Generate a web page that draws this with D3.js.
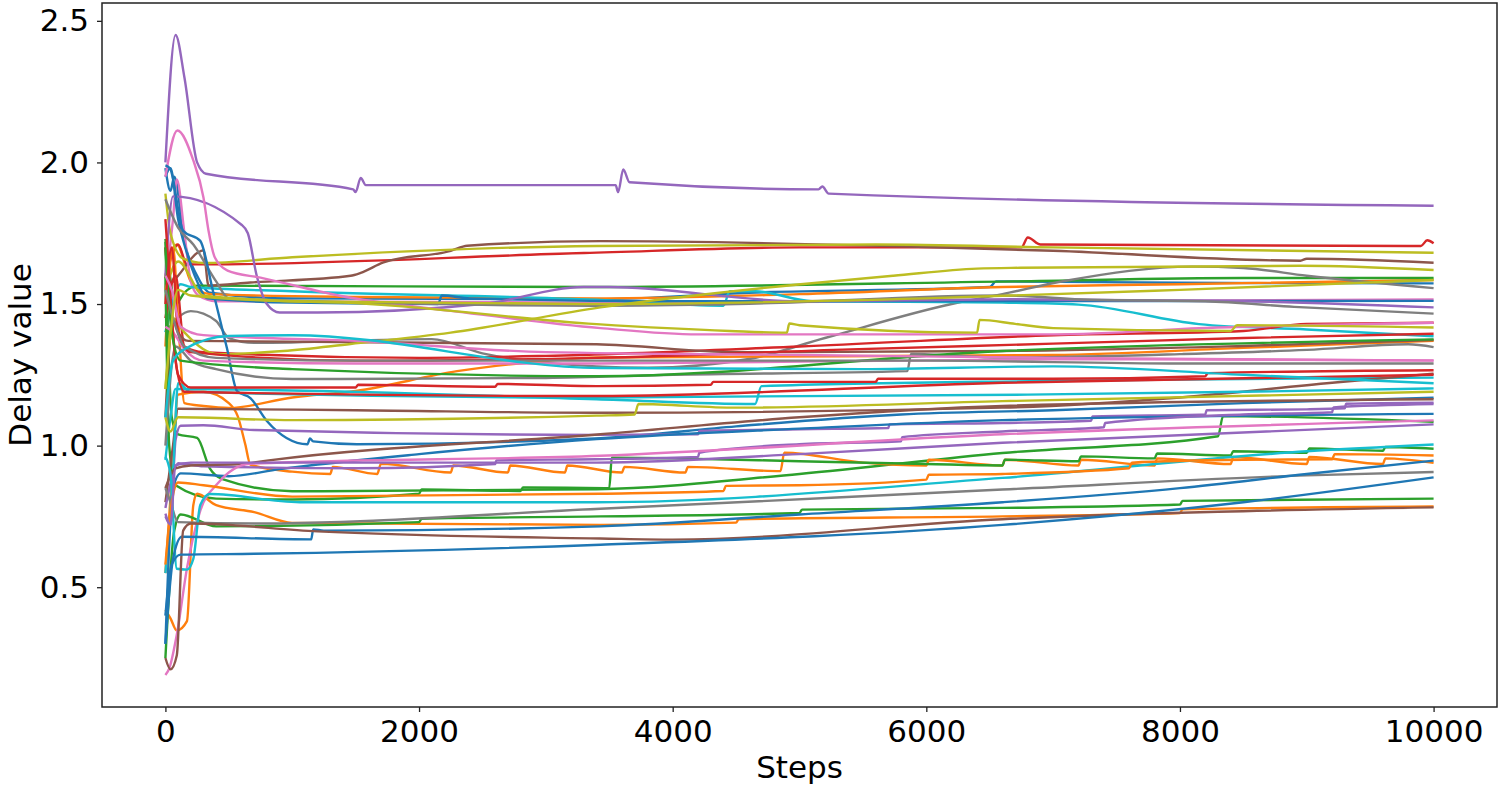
<!DOCTYPE html>
<html>
<head>
<meta charset="utf-8">
<script src="https://cdn.jsdelivr.net/npm/d3@7"></script>
<style>
  body { margin: 0; background: #fff; }
  text { font-family: "DejaVu Sans", sans-serif; fill: #000; }
</style>
</head>
<body>
<div id="chart"></div>
<script>
// step / delay value pairs, one array per curve
const blue1 = [[0,1.98],[40,1.90],[70,1.95],[150,1.72],[250,1.60],[350,1.54],[1000,1.52],[3400,1.517],[4600,1.54],[6500,1.56],[6550,1.58],[8000,1.575],[10000,1.573]];
const orange1 = [[0,1.60],[90,1.71],[200,1.58],[350,1.535],[1500,1.525],[3400,1.52],[5000,1.535],[6600,1.56],[8000,1.57],[10000,1.585]];
const green1 = [[0,1.73],[30,1.62],[80,1.50],[150,1.54],[250,1.565],[3400,1.56],[6700,1.58],[8500,1.592],[10000,1.592]];
const red1 = [[0,1.59],[100,1.71],[170,1.64],[300,1.64],[3300,1.68],[5000,1.70],[6750,1.70],[6800,1.735],[6900,1.71],[9900,1.705],[9950,1.725],[10000,1.715]];
const purple1 = [[0,2.0],[80,2.45],[150,2.3],[250,2.0],[320,1.96],[1480,1.905],[1500,1.895],[1540,1.945],[1580,1.92],[3550,1.92],[3570,1.895],[3610,1.975],[3660,1.93],[5150,1.905],[5180,1.915],[5230,1.89],[10000,1.847]];
const brown1 = [[0,1.55],[100,1.60],[250,1.68],[300,1.69],[340,1.565],[670,1.576],[1460,1.60],[1540,1.61],[1720,1.647],[2250,1.688],[2380,1.706],[3430,1.722],[5800,1.704],[7000,1.688],[8950,1.653],[9000,1.66],[10000,1.646]];
const pink1 = [[0,1.55],[60,1.80],[90,1.94],[150,1.75],[200,1.58],[260,1.53],[400,1.51],[3400,1.505],[10000,1.516]];
const gray1 = [[0,1.40],[200,1.475],[400,1.44],[500,1.38],[700,1.363],[2100,1.376],[2500,1.326],[3000,1.293],[3800,1.275],[4600,1.306],[5200,1.38],[6200,1.50],[6600,1.535],[7100,1.582],[8100,1.632],[8500,1.627],[9000,1.60],[10000,1.556]];
const olive1 = [[0,1.89],[40,1.75],[140,1.66],[300,1.645],[1000,1.665],[3400,1.705],[5600,1.71],[7000,1.70],[10000,1.681]];
const cyan1 = [[0,1.40],[40,1.48],[120,1.57],[200,1.56],[1000,1.545],[3400,1.515],[4400,1.494],[4450,1.545],[4650,1.545],[5100,1.51],[6600,1.505],[7200,1.498],[8150,1.429],[9000,1.41],[10000,1.386]];

const blue2 = [[0,1.95],[40,1.98],[100,1.80],[170,1.68],[250,1.58],[330,1.52],[1000,1.505],[2150,1.50],[2180,1.53],[2400,1.52],[4000,1.51],[10000,1.511]];
const orange2 = [[0,1.35],[60,1.70],[100,1.45],[150,1.15],[300,1.14],[500,1.133],[1000,1.17],[1500,1.193],[2300,1.263],[3000,1.299],[3400,1.311],[7000,1.32],[8500,1.345],[10000,1.37]];
const green2 = [[0,1.72],[50,1.10],[100,1.04],[250,1.027],[350,0.92],[450,0.882],[1000,0.839],[3400,0.846],[5000,0.90],[6600,0.974],[8300,1.033],[8340,1.104],[10000,1.084]];
const red2 = [[0,1.45],[80,1.60],[150,1.35],[300,1.33],[2000,1.31],[3000,1.317],[5000,1.35],[7000,1.39],[8500,1.405],[9000,1.43],[10000,1.434]];
const purple2 = [[0,1.60],[60,1.88],[600,1.78],[650,1.75],[720,1.60],[800,1.50],[900,1.47],[1200,1.47],[2500,1.50],[3300,1.56],[3500,1.56],[5000,1.51],[6700,1.517],[8500,1.51],[10000,1.488]];
const brown2 = [[0,1.10],[60,1.45],[100,1.40],[180,1.37],[3400,1.358],[4500,1.33],[6600,1.334],[8500,1.352],[10000,1.373]];
const pink2 = [[0,1.95],[94,2.113],[220,2.007],[300,1.876],[340,1.759],[390,1.664],[490,1.618],[750,1.593],[1460,1.522],[2250,1.476],[3430,1.415],[4200,1.393],[7000,1.393],[8300,1.417],[10000,1.434]];
const gray2 = [[0,1.87],[100,1.77],[220,1.71],[400,1.58],[500,1.52],[3400,1.494],[4500,1.50],[6600,1.53],[7300,1.515],[8200,1.51],[8900,1.49],[10000,1.466]];
const olive2 = [[0,1.20],[60,1.45],[150,1.40],[410,1.323],[930,1.334],[1460,1.359],[2250,1.399],[3430,1.488],[5010,1.57],[5740,1.60],[6400,1.625],[6740,1.628],[8950,1.635],[10000,1.62]];
const cyan2 = [[0,0.95],[40,1.10],[80,1.20],[3400,1.164],[4650,1.147],[4700,1.21],[6900,1.228],[8500,1.235],[10000,1.24]];

const blue3 = [[0,1.99],[37,1.978],[140,1.759],[275,1.723],[375,1.546],[485,1.345],[565,1.193],[670,1.168],[800,1.087],[1120,1.005],[1140,1.025],[1165,1.015],[1510,1.005],[3430,1.026],[4500,1.068],[5800,1.11],[7000,1.125],[8500,1.15],[10000,1.169]];
const orange3 = [[0,0.55],[60,0.95],[100,1.18],[300,1.19],[500,1.15],[570,1.104],[630,1.004],[670,0.933],[1000,0.908],[1300,0.90],[1320,0.925],[1670,0.90],[1700,0.936],[2250,0.905],[2270,0.93],[2700,0.905],[2720,0.93],[3150,0.905],[3170,0.93],[3600,0.905],[3620,0.925],[4100,0.905],[4120,0.925],[4850,0.91],[4880,0.975],[5500,0.94],[6000,0.93],[6020,0.95],[6600,0.93],[6620,0.95],[7200,0.93],[7220,0.95],[7800,0.93],[7820,0.955],[8400,0.935],[8420,0.96],[9000,0.935],[9020,0.96],[9600,0.935],[9620,0.955],[10000,0.939]];
const green3 = [[0,1.60],[30,1.0],[80,0.86],[400,0.813],[1000,0.81],[2000,0.83],[2020,0.845],[2800,0.84],[2820,0.852],[3500,0.85],[3520,0.957],[4000,0.955],[5000,0.945],[6000,0.935],[6600,0.93],[6620,0.95],[7200,0.945],[7220,0.962],[7800,0.955],[7820,0.972],[8400,0.965],[8420,0.98],[9000,0.975],[9020,0.99],[9600,0.982],[9620,0.995],[10000,0.989]];
const red3 = [[0,1.70],[40,1.50],[100,1.25],[200,1.205],[1500,1.205],[1520,1.215],[2600,1.208],[2620,1.218],[3400,1.21],[4300,1.215],[4320,1.225],[5600,1.225],[5620,1.236],[7000,1.236],[8200,1.245],[8220,1.256],[10000,1.266]];
const purple3 = [[0,0.75],[40,0.72],[80,1.02],[120,1.07],[300,1.072],[700,1.055],[3400,1.038],[4200,1.04],[4210,1.052],[5000,1.058],[5700,1.062],[5710,1.075],[6600,1.08],[7300,1.088],[7310,1.103],[8200,1.11],[8210,1.125],[9000,1.128],[9300,1.132],[9310,1.148],[10000,1.152]];
const brown3 = [[0,0.80],[60,1.00],[100,1.13],[1500,1.125],[3400,1.116],[6600,1.134],[8000,1.17],[9200,1.222],[10000,1.254]];
const pink3 = [[0,1.42],[60,1.40],[150,1.34],[300,1.30],[1500,1.29],[3400,1.29],[7000,1.305],[10000,1.301]];
const gray3 = [[0,1.0],[80,1.35],[200,1.30],[400,1.27],[1000,1.235],[3000,1.239],[4000,1.25],[5850,1.263],[5880,1.324],[6600,1.311],[8000,1.323],[9000,1.338],[9800,1.358],[10000,1.348]];
const olive3 = [[0,1.55],[100,1.65],[300,1.53],[1000,1.51],[1400,1.505],[3400,1.429],[4450,1.405],[4900,1.399],[4920,1.431],[5000,1.425],[6400,1.399],[6420,1.444],[6700,1.43],[7000,1.415],[8400,1.405],[8450,1.425],[10000,1.417]];
const cyan3 = [[0,0.55],[60,0.90],[100,1.22],[200,1.19],[3400,1.17],[6800,1.18],[8500,1.19],[10000,1.202]];

const blue4 = [[0,0.30],[60,0.85],[120,0.902],[500,0.892],[900,0.917],[2000,0.97],[3400,1.023],[5000,1.06],[6600,1.09],[10000,1.112]];
const orange4 = [[0,0.42],[40,0.39],[90,0.347],[170,0.38],[220,0.79],[250,0.83],[400,0.79],[700,0.765],[1000,0.727],[3430,0.72],[4500,0.728],[4520,0.74],[6600,0.75],[8000,0.762],[8020,0.775],[10000,0.785]];
const green4 = [[0,0.25],[70,0.70],[120,0.757],[400,0.715],[2000,0.73],[2020,0.742],[3430,0.75],[5000,0.762],[5020,0.774],[6600,0.78],[8000,0.792],[8020,0.805],[10000,0.813]];
const red4 = [[0,1.80],[30,1.60],[80,1.30],[150,1.19],[3400,1.175],[6600,1.222],[10000,1.25]];
const purple4 = [[0,0.78],[60,0.90],[100,0.938],[300,0.927],[1500,0.92],[2600,0.935],[2610,0.948],[3400,0.952],[4200,0.96],[4210,0.975],[5000,1.005],[5800,1.015],[5810,1.03],[6600,1.05],[7400,1.065],[7410,1.08],[8500,1.11],[9200,1.118],[9210,1.135],[10000,1.147]];
const brown4 = [[0,0.85],[80,0.92],[200,0.93],[600,0.935],[800,0.947],[3430,1.04],[5000,1.10],[6600,1.14],[10000,1.164]];
const pink4 = [[0,0.19],[30,0.213],[90,0.333],[170,0.567],[275,0.77],[410,0.865],[670,0.936],[3430,0.964],[6600,1.04],[10000,1.089]];
const gray4 = [[0,0.85],[40,0.80],[100,0.73],[700,0.725],[3430,0.777],[6600,0.845],[9000,0.895],[10000,0.907]];
const olive4 = [[0,1.10],[40,1.05],[100,1.10],[1000,1.09],[3400,1.106],[3700,1.11],[3730,1.147],[4500,1.134],[6600,1.157],[10000,1.19]];
const cyan4 = [[0,0.96],[40,0.899],[90,0.565],[170,0.562],[220,0.60],[275,0.79],[350,0.829],[1060,0.80],[3400,0.80],[6600,0.886],[9000,0.98],[10000,1.004]];

const blue5 = [[0,0.30],[60,0.60],[130,0.678],[1150,0.669],[1165,0.704],[1250,0.70],[3430,0.715],[5000,0.757],[6600,0.80],[8000,0.85],[9000,0.90],[10000,0.947]];
const orange5 = [[0,0.58],[50,0.80],[100,0.87],[300,0.86],[1000,0.82],[3430,0.83],[4400,0.84],[4420,0.858],[5000,0.86],[6000,0.88],[6020,0.897],[6600,0.90],[7600,0.92],[7620,0.94],[8500,0.95],[9200,0.952],[9220,0.97],[10000,0.965]];
const green5 = [[0,1.70],[50,1.40],[120,1.30],[1000,1.27],[3400,1.245],[6600,1.334],[10000,1.375]];
const red5 = [[0,1.50],[50,1.70],[100,1.40],[200,1.33],[1500,1.30],[3400,1.31],[5400,1.34],[7000,1.36],[8500,1.38],[10000,1.395]];
const purple5 = [[0,0.76],[40,0.72],[80,0.93],[200,0.94],[3400,0.94],[5000,0.97],[6600,1.01],[10000,1.075]];
const brown5 = [[0,0.25],[40,0.21],[90,0.26],[140,0.70],[200,0.725],[1200,0.697],[3430,0.672],[4000,0.668],[6600,0.74],[10000,0.782]];
const pink5 = [[0,1.60],[50,1.55],[120,1.42],[300,1.39],[1500,1.37],[3000,1.33],[5000,1.32],[7000,1.31],[10000,1.30]];
const gray5 = [[0,1.55],[60,1.45],[150,1.35],[400,1.31],[1500,1.30],[4000,1.30],[6000,1.30],[8000,1.29],[10000,1.29]];
const olive5 = [[0,1.20],[30,1.35],[100,1.55],[200,1.53],[1000,1.51],[3400,1.50],[6000,1.52],[8000,1.55],[10000,1.585]];
const cyan5 = [[0,1.10],[60,1.30],[150,1.34],[500,1.387],[1000,1.39],[3430,1.274],[5500,1.27],[7000,1.28],[8500,1.25],[10000,1.22]];

const blue6 = [[0,0.40],[50,0.58],[120,0.615],[700,0.618],[3430,0.65],[6600,0.72],[8500,0.80],[10000,0.888]];

// plotted in this order, colours follow the default 10-colour cycle
const series = [
  blue1, orange1, green1, red1, purple1, brown1, pink1, gray1, olive1, cyan1,
  blue2, orange2, green2, red2, purple2, brown2, pink2, gray2, olive2, cyan2,
  blue3, orange3, green3, red3, purple3, brown3, pink3, gray3, olive3, cyan3,
  blue4, orange4, green4, red4, purple4, brown4, pink4, gray4, olive4, cyan4,
  blue5, orange5, green5, red5, purple5, brown5, pink5, gray5, olive5, cyan5,
  blue6
];

const xTicks = [0, 2000, 4000, 6000, 8000, 10000];
const yTicks = [0.5, 1.0, 1.5, 2.0, 2.5];

const width = 1500;
const height = 786;
const margin = { top: 3, right: 3, bottom: 79, left: 102 };

const svg = d3.select("#chart")
    .append("svg")
    .attr("width", width)
    .attr("height", height);

const x = d3.scaleLinear()
    .domain([-500, 10500])
    .range([margin.left, width - margin.right]);

const y = d3.scaleLinear()
    .domain([0.077, 2.563])
    .range([height - margin.bottom, margin.top]);

const color = d3.scaleOrdinal(d3.schemeCategory10);

svg.append("clipPath")
    .attr("id", "plot-area")
    .append("rect")
    .attr("x", margin.left)
    .attr("y", margin.top)
    .attr("width", width - margin.left - margin.right)
    .attr("height", height - margin.top - margin.bottom);

const line = d3.line()
    .curve(d3.curveMonotoneX)
    .x(d => x(d[0]))
    .y(d => y(d[1]));

svg.append("g")
    .attr("clip-path", "url(#plot-area)")
    .selectAll("path")
    .data(series)
    .enter().append("path")
    .attr("fill", "none")
    .attr("stroke", (d, i) => color(i % 10))
    .attr("stroke-width", 2.4)
    .attr("stroke-linejoin", "round")
    .attr("d", line);

// axes
const xAxis = svg.append("g")
    .attr("transform", `translate(0,${height - margin.bottom})`)
    .call(d3.axisBottom(x).tickValues(xTicks).tickSize(5).tickPadding(8).tickFormat(d3.format("d")));

const yAxis = svg.append("g")
    .attr("transform", `translate(${margin.left},0)`)
    .call(d3.axisLeft(y).tickValues(yTicks).tickSize(5).tickPadding(8).tickFormat(d3.format(".1f")));

[xAxis, yAxis].forEach(g => {
    g.select(".domain").remove();
    g.selectAll(".tick line").attr("stroke", "#222").attr("stroke-width", 1.3);
    g.selectAll(".tick text")
        .style("font-family", "'DejaVu Sans', sans-serif")
        .style("font-size", "31px")
        .attr("fill", "#000");
});

// frame
svg.append("rect")
    .attr("x", margin.left)
    .attr("y", margin.top)
    .attr("width", width - margin.left - margin.right)
    .attr("height", height - margin.top - margin.bottom)
    .attr("fill", "none")
    .attr("stroke", "#222")
    .attr("stroke-width", 1.5);

svg.append("text")
    .attr("x", (margin.left + width - margin.right) / 2)
    .attr("y", 778)
    .attr("text-anchor", "middle")
    .style("font-size", "31px")
    .text("Steps");

svg.append("text")
    .attr("transform", `translate(31,${(margin.top + height - margin.bottom) / 2}) rotate(-90)`)
    .attr("text-anchor", "middle")
    .style("font-size", "31px")
    .text("Delay value");
</script>
</body>
</html>
